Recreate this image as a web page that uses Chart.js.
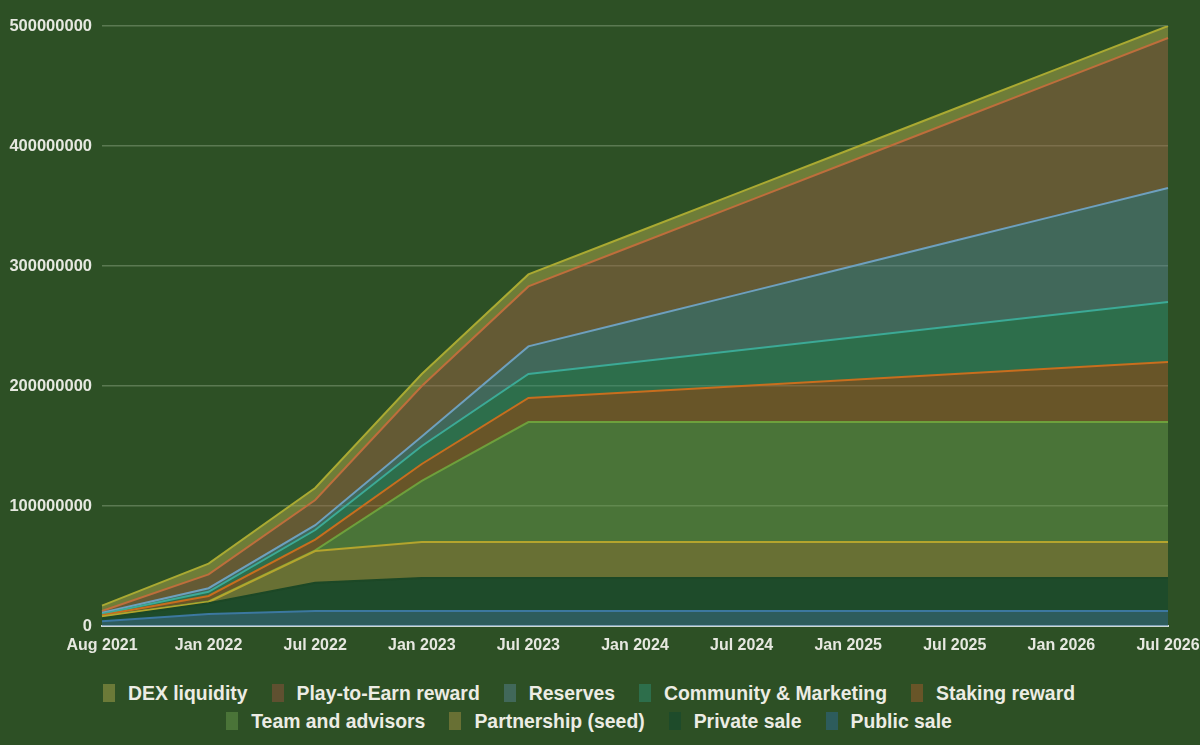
<!DOCTYPE html>
<html>
<head>
<meta charset="utf-8">
<script src="https://cdn.jsdelivr.net/npm/chart.js@4.4.1/dist/chart.umd.min.js"></script>
<style>
html,body{margin:0;padding:0;background:#2d5025;width:1200px;height:745px;overflow:hidden;}
#wrap{position:absolute;left:0;top:0;width:1200px;height:668px;}
#legend{position:absolute;left:0;top:679px;width:1178px;font-family:"Liberation Sans",Arial,sans-serif;font-weight:bold;font-size:19.4px;color:#ecece4;}
.row{display:flex;justify-content:center;height:28px;align-items:center;}
.item{display:flex;align-items:center;margin:0 12px;white-space:nowrap;}
.box{width:12px;height:18px;margin-right:13px;}
</style>
</head>
<body>
<div id="wrap"><canvas id="c" width="1200" height="668"></canvas></div>
<div id="legend"></div>
<script>
// Categories (x axis)
const categories = ["Aug 2021","Jan 2022","Jul 2022","Jan 2023","Jul 2023","Jan 2024","Jul 2024","Jan 2025","Jul 2025","Jan 2026","Jul 2026"];

// Series values (tokens), stacked bottom -> top
const publicSale   = [4000000,10000000,12500000,12500000,12500000,12500000,12500000,12500000,12500000,12500000,12500000];
const privateSale  = [2500000,9000000,23500000,27500000,27500000,27500000,27500000,27500000,27500000,27500000,27500000];
const partnership  = [1500000,1000000,26500000,30000000,30000000,30000000,30000000,30000000,30000000,30000000,30000000];
const team         = [0,500000,500000,51000000,100000000,100000000,100000000,100000000,100000000,100000000,100000000];
const staking      = [1000000,4500000,9000000,14000000,20000000,25000000,30000000,35000000,40000000,45000000,50000000];
const community    = [1000000,3500000,8000000,15000000,20000000,25000000,30000000,35000000,40000000,45000000,50000000];
const reserves     = [1000000,3000000,4000000,8000000,23000000,35000000,47000000,59000000,71000000,83000000,95000000];
const playToEarn   = [1500000,11500000,21000000,42000000,50000000,62500000,75000000,87500000,100000000,112500000,125000000];
const dexLiquidity = [4500000,9000000,10000000,10000000,10000000,10000000,10000000,10000000,10000000,10000000,10000000];

// Y tick labels
const yTicks = [0,100000000,200000000,300000000,400000000,500000000];

// Series names (legend order = top of stack first)
const seriesNames = ["DEX liquidity","Play-to-Earn reward","Reserves","Community & Marketing","Staking reward","Team and advisors","Partnership (seed)","Private sale","Public sale"];

const seriesDefs = [
  {label:"Public sale",           data:publicSale,   line:"rgb(60,120,160)",  fill:"rgba(45,104,147,0.5)", key:"#2d5c5c"},
  {label:"Private sale",          data:privateSale,  line:"rgb(28,72,38)",    fill:"rgba(15,70,47,0.5)",   key:"#1e4b2a"},
  {label:"Partnership (seed)",    data:partnership,  line:"rgb(180,165,45)",  fill:"rgba(163,144,67,0.5)", key:"#687034"},
  {label:"Team and advisors",     data:team,         line:"rgb(110,160,60)",  fill:"rgba(103,152,75,0.5)", key:"#4a7438"},
  {label:"Staking reward",        data:staking,      line:"rgb(200,110,30)",  fill:"rgba(163,90,43,0.5)",  key:"#685528"},
  {label:"Community & Marketing", data:community,    line:"rgb(60,170,150)",  fill:"rgba(45,140,113,0.5)", key:"#2d6e4b"},
  {label:"Reserves",              data:reserves,     line:"rgb(110,160,190)", fill:"rgba(85,128,143,0.5)", key:"#41685a"},
  {label:"Play-to-Earn reward",   data:playToEarn,   line:"rgb(190,110,60)",  fill:"rgba(155,100,67,0.5)", key:"#5f5030"},
  {label:"DEX liquidity",         data:dexLiquidity, line:"rgb(170,170,50)",  fill:"rgba(175,170,75,0.5)", key:"#6b7a38"}
];

const fontFam = '"Liberation Sans",Arial,sans-serif';
const tickColor = '#e6e8e0';

const datasets = seriesDefs.map((s,i)=>({
  label:s.label,
  data:s.data,
  borderColor:s.line,
  backgroundColor:s.fill,
  borderWidth:2,
  pointRadius:0,
  tension:0,
  fill: i===0 ? 'origin' : '-1'
}));

new Chart(document.getElementById('c'),{
  type:'line',
  data:{labels:categories, datasets},
  options:{
    responsive:false,
    animation:false,
    layout:{padding:{left:0,right:2,top:26,bottom:0}},
    plugins:{legend:{display:false},tooltip:{enabled:false}},
    scales:{
      x:{
        z:1,
        grid:{display:false,drawTicks:false},
        border:{color:'#cdd9d6',width:2},
        ticks:{color:tickColor,font:{family:fontFam,size:16,weight:'bold'},padding:10,autoSkip:false,maxRotation:0},
        afterFit(s){s.height=42;s.paddingLeft=0;s.paddingRight=32;}
      },
      y:{
        stacked:true,
        min:yTicks[0],max:yTicks[yTicks.length-1],
        afterBuildTicks(s){s.ticks=yTicks.map(v=>({value:v}));},
        ticks:{color:tickColor,font:{family:fontFam,size:16.5,weight:'bold'},padding:10,callback:v=>String(v)},
        grid:{color:'rgba(200,220,190,0.3)',drawTicks:false,lineWidth:1.5},
        border:{display:false},
        afterFit(s){s.width=102;s.paddingTop=0;s.paddingBottom=0;}
      }
    }
  }
});

// HTML legend
const legend = document.getElementById('legend');
const rows = [seriesNames.slice(0,5), seriesNames.slice(5)];
rows.forEach(r=>{
  const row = document.createElement('div'); row.className='row';
  r.forEach(name=>{
    const def = seriesDefs.find(d=>d.label===name);
    const it = document.createElement('div'); it.className='item';
    const b = document.createElement('span'); b.className='box'; b.style.background=def.key;
    const t = document.createElement('span'); t.textContent=name;
    it.appendChild(b); it.appendChild(t); row.appendChild(it);
  });
  legend.appendChild(row);
});
</script>
</body>
</html>
